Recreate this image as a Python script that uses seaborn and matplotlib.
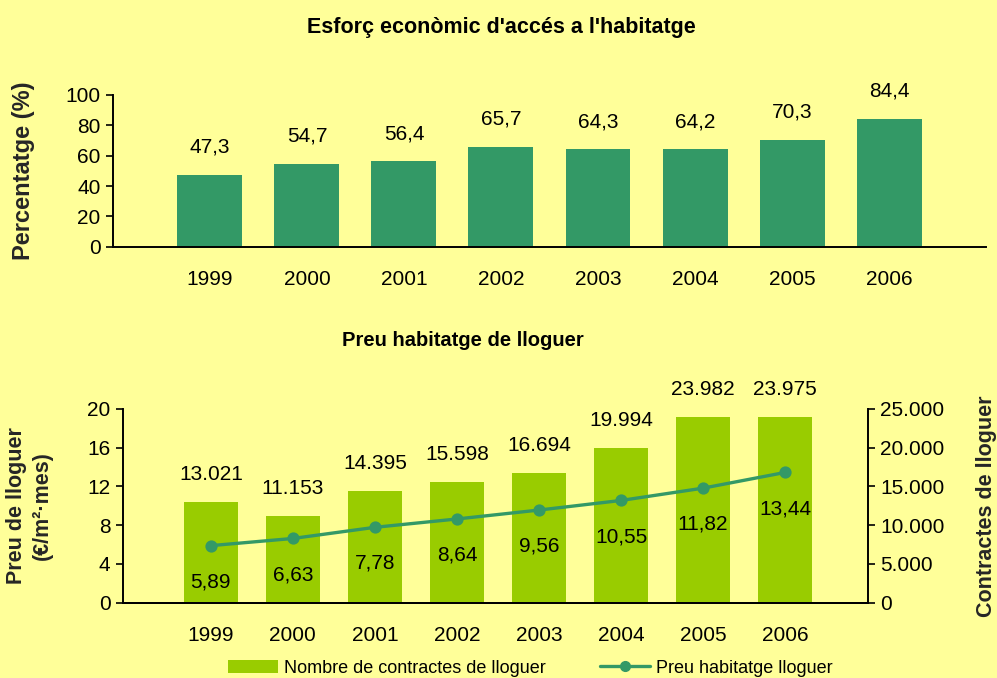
import seaborn as sns
import matplotlib.pyplot as plt
from matplotlib.ticker import FuncFormatter
from matplotlib.patches import Patch
from matplotlib.lines import Line2D

years = ["1999", "2000", "2001", "2002", "2003", "2004", "2005", "2006"]
esforc = [47.3, 54.7, 56.4, 65.7, 64.3, 64.2, 70.3, 84.4]
contractes = [13021, 11153, 14395, 15598, 16694, 19994, 23982, 23975]
preu = [5.89, 6.63, 7.78, 8.64, 9.56, 10.55, 11.82, 13.44]

bg = "#FFFF99"
green_dark = "#339966"
green_light = "#99CC00"

sns.set_theme(style="ticks")
plt.rcParams["font.family"] = ["Liberation Sans", "DejaVu Sans"]
plt.rcParams["axes.edgecolor"] = "black"
plt.rcParams["axes.linewidth"] = 1.4
plt.rcParams["text.color"] = "black"
plt.rcParams["xtick.color"] = "black"
plt.rcParams["ytick.color"] = "black"


def comma(v, d):
    return f"{v:.{d}f}".replace(".", ",")


def thousands(v, pos=None):
    return f"{int(round(v)):,}".replace(",", ".")


fig = plt.figure(figsize=(9.97, 6.78), dpi=100, facecolor=bg)

# top chart
ax1 = fig.add_axes([0.1133, 0.636, 0.8757, 0.224])
ax1.set_facecolor(bg)
sns.barplot(x=years, y=esforc, color=green_dark, saturation=1, width=0.67,
            linewidth=0, edgecolor="none", ax=ax1)
ax1.bar_label(ax1.containers[0], labels=[comma(v, 1) for v in esforc],
              padding=13, fontsize=15)
ax1.set_ylim(0, 100)
ax1.set_yticks(range(0, 101, 20))
ax1.set_xlim(-1, 8)
ax1.tick_params(axis="x", length=0, pad=17, labelsize=15)
ax1.tick_params(axis="y", length=5, width=1.2, labelsize=15, pad=4)
ax1.spines[["top", "right"]].set_visible(False)
ax1.set_ylabel("Percentatge (%)", fontsize=17, fontweight="bold")
ax1.yaxis.set_label_coords(-0.0893, 0.5)
fig.text(0.5025, 1 - 27 / 678, "Esforç econòmic d'accés a l'habitatge",
         ha="center", va="center", fontsize=15.5, fontweight="bold")

# bottom chart
ax = fig.add_axes([0.1234, 0.111, 0.7472, 0.286])
ax2 = ax.twinx()
ax2.set_facecolor(bg)
sns.barplot(x=years, y=contractes, color=green_light, saturation=1, width=0.66,
            linewidth=0, edgecolor="none", ax=ax2)
ax2.bar_label(ax2.containers[0], labels=[thousands(v) for v in contractes],
              padding=13, fontsize=15)
sns.pointplot(x=years, y=preu, color=green_dark, markers="o", markersize=7,
              linewidth=2.4, ax=ax)
for i, v in enumerate(preu):
    ax.annotate(comma(v, 2), (i, v), xytext=(0, -26), textcoords="offset points",
                ha="center", va="center", fontsize=15)
ax.set_zorder(ax2.get_zorder() + 1)
ax.patch.set_visible(False)

ax.set_ylim(0, 20)
ax.set_yticks(range(0, 21, 4))
ax2.set_ylim(0, 25000)
ax2.set_yticks(range(0, 25001, 5000))
ax2.yaxis.set_major_formatter(FuncFormatter(thousands))
ax.set_xlim(-1.07, 8.01)
ax.tick_params(axis="x", length=0, pad=17, labelsize=15)
ax.tick_params(axis="y", length=5, width=1.2, labelsize=15, pad=4)
ax2.tick_params(axis="y", length=5, width=1.2, labelsize=15, pad=4)
ax2.tick_params(axis="x", length=0)
for a in (ax, ax2):
    a.spines["top"].set_visible(False)
ax.spines["right"].set_visible(False)
ax2.spines["left"].set_visible(False)
ax.set_xlabel("")
ax2.set_xlabel("")

ax.set_ylabel("Preu de lloguer\n(€/m²·mes)", fontsize=15.5, fontweight="bold",
              linespacing=1.3)
ax.yaxis.set_label_coords(-0.094, 0.5)
ax2.set_ylabel("Contractes de lloguer", fontsize=15.5, fontweight="bold")
ax2.yaxis.set_label_coords(1.145, 0.5)

fig.text(0.4644, 1 - 340 / 678, "Preu habitatge de lloguer",
         ha="center", va="center", fontsize=14.5, fontweight="bold")

handles = [
    Patch(facecolor=green_light, edgecolor="none"),
    Line2D([], [], color=green_dark, marker="o", markersize=7, linewidth=2.4),
]
fig.legend(handles, ["Nombre de contractes de lloguer", "Preu habitatge lloguer"],
           loc="center", bbox_to_anchor=(0.5316, 0.0147), ncol=2, frameon=False,
           fontsize=13, handlelength=2.8, handletextpad=0.3, columnspacing=3,
           borderaxespad=0, borderpad=0)

fig.savefig("out.png", dpi=100, facecolor=bg)
